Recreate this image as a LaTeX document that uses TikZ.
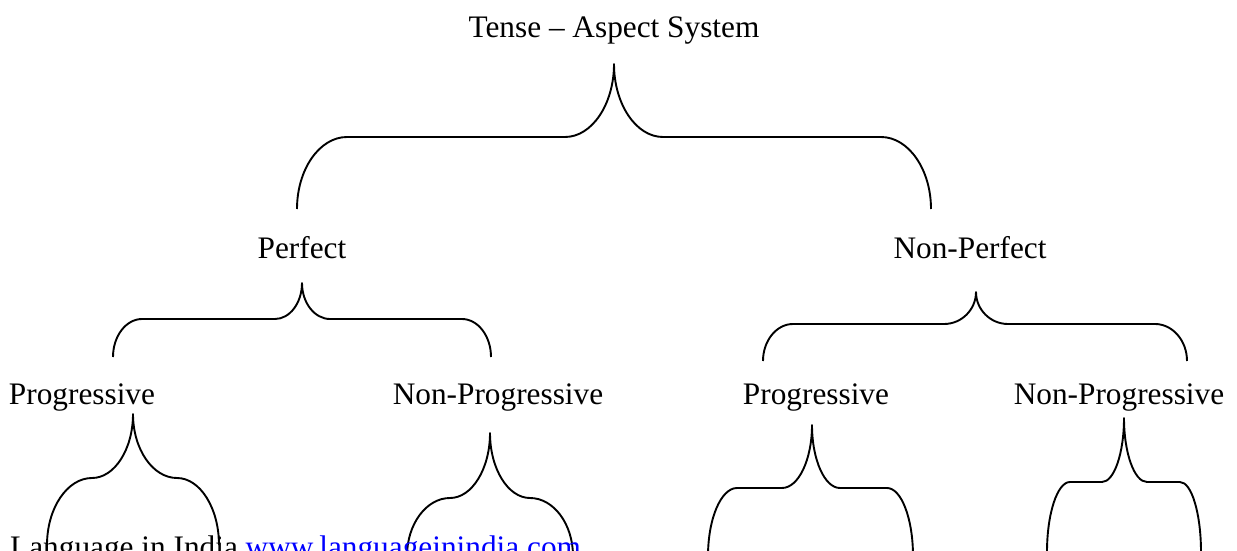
\documentclass[tikz,border=0pt]{standalone}
\usepackage{fontspec}
\setmainfont{Liberation Serif}
\definecolor{linkblue}{RGB}{0,0,255}
\newcommand\wbrace[4]{\def\wbtx{#1}\def\wbty{#2}\def\wbsy{#3}\def\wbey{#4}\wbraceB}
\newcommand\wbraceB[6]{%
  \pgfmathsetmacro\wbya{\wbey-0.55*(\wbey-\wbsy)}%
  \pgfmathsetmacro\wbxa{#2-0.55*(#2-#1)}%
  \pgfmathsetmacro\wbxb{#3+0.55*(\wbtx-#3)}%
  \pgfmathsetmacro\wbyb{\wbty+0.55*(\wbsy-\wbty)}%
  \pgfmathsetmacro\wbxc{#4-0.55*(#4-\wbtx)}%
  \pgfmathsetmacro\wbxd{#5+0.55*(#6-#5)}%
  \draw[bracestyle] (#1,\wbey) .. controls (#1,\wbya) and (\wbxa,\wbsy) .. (#2,\wbsy)
    -- (#3,\wbsy) .. controls (\wbxb,\wbsy) and (\wbtx,\wbyb) .. (\wbtx,\wbty)
    .. controls (\wbtx,\wbyb) and (\wbxc,\wbsy) .. (#4,\wbsy)
    -- (#5,\wbsy) .. controls (\wbxd,\wbsy) and (#6,\wbya) .. (#6,\wbey);}
\begin{document}
\begin{tikzpicture}[x=1pt,y=-1pt,
  label/.style={font=\fontsize{31.3}{37}\selectfont, inner sep=0pt, anchor=base},
  bracestyle/.style={line width=1.9pt, black, line join=round}]
\path[use as bounding box, clip] (0,0) rectangle (1237,551);
\fill[white] (0,0) rectangle (1237,551);
% braces
\wbrace{614}{64}{137}{209}{297}{347}{565}{663}{881}{931}
\wbrace{302}{283}{319}{357}{113}{142}{275}{330}{462}{491}
\wbrace{976}{292}{324}{361}{763}{793}{944}{1008}{1155}{1187}
\wbrace{133}{414}{478}{545}{47}{92}{92}{177}{177}{219}
\wbrace{490}{433}{498}{556}{407}{450}{450}{530}{530}{573}
\wbrace{812}{425}{488}{556}{708}{737}{782}{840}{887}{913}
\wbrace{1124}{418}{482}{552}{1047}{1070}{1102}{1147}{1180}{1201}
% texts
\node[label] (title) at (614,38) {Tense – Aspect System};
\node[label] (perf) at (302,258) {Perfect};
\node[label] (nonperf) at (970,258) {Non-Perfect};
\node[label] (prog1) at (82,404) {Progressive};
\node[label] (nonprog1) at (498,404) {Non-Progressive};
\node[label] (prog2) at (816,404) {Progressive};
\node[label] (nonprog2) at (1119,404) {Non-Progressive};
\node[label, anchor=base west] (footer) at (10,557) {Language in India \textcolor{linkblue}{www.languageinindia.com}};
\end{tikzpicture}
\end{document}
